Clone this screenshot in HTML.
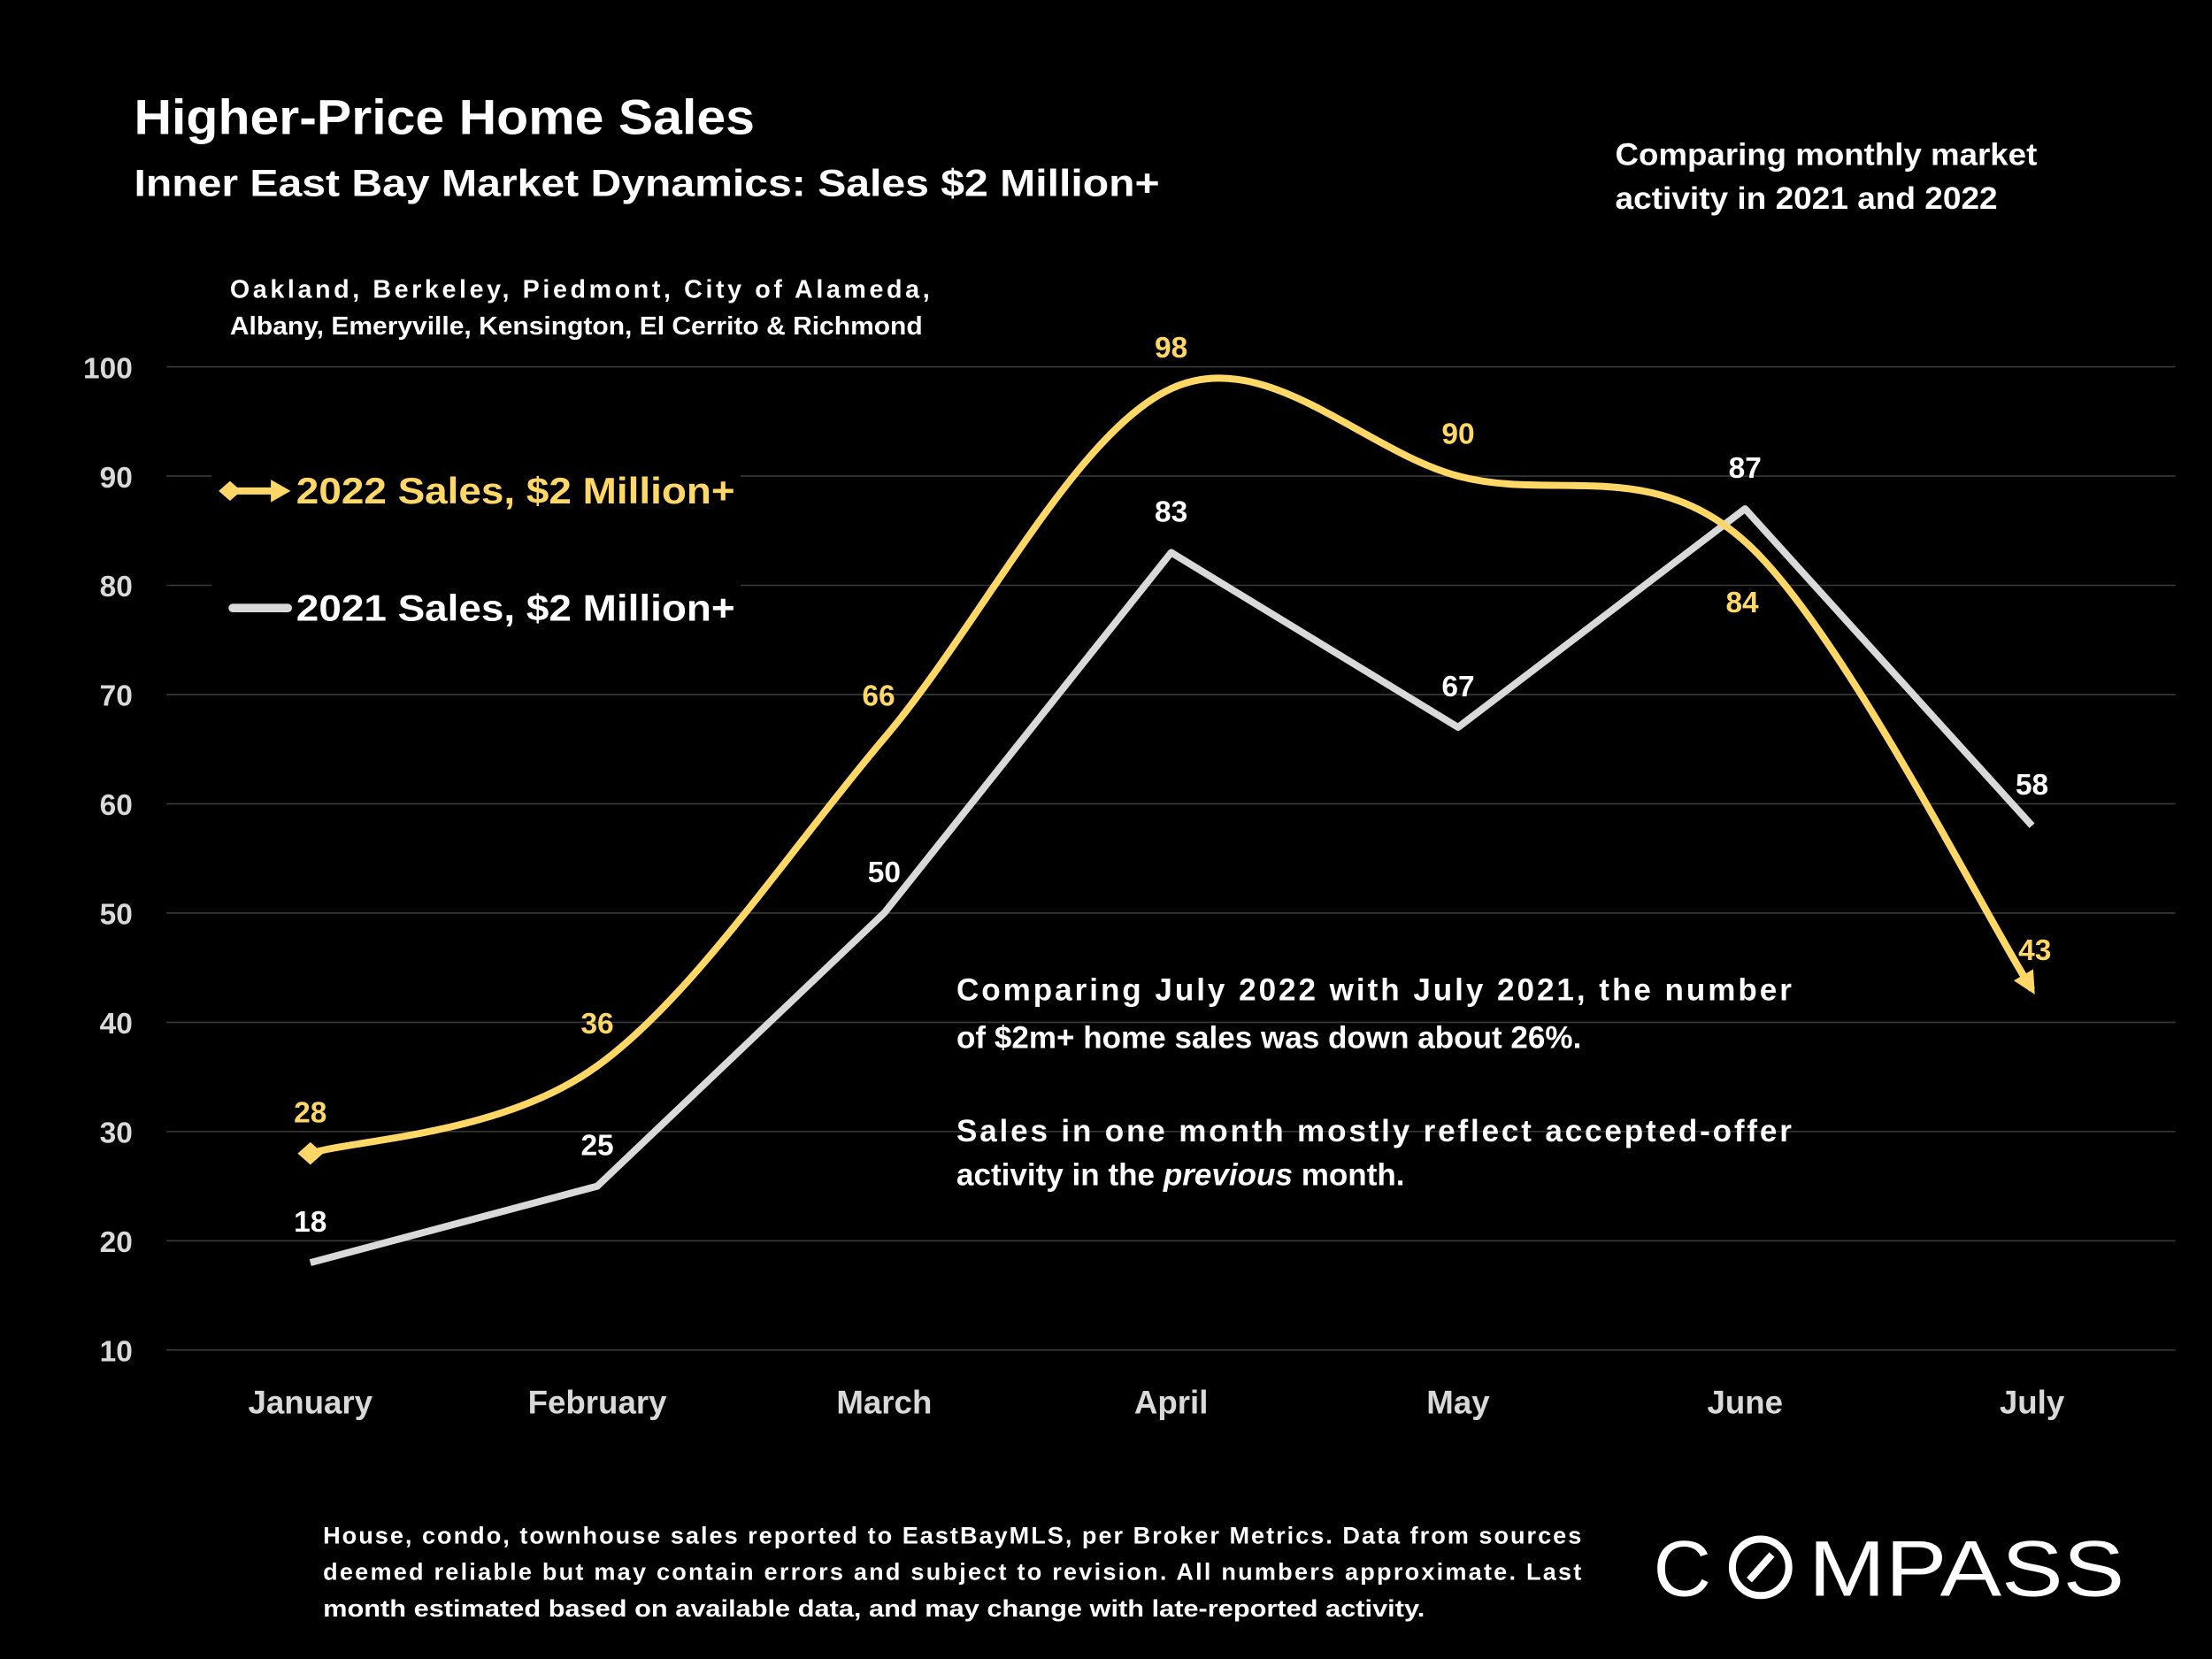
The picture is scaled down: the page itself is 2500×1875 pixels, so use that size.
<!DOCTYPE html>
<html><head><meta charset="utf-8"><style>
html,body{margin:0;padding:0;background:#000;}
svg{display:block;font-family:"Liberation Sans",sans-serif;font-weight:bold;}
</style></head><body>
<svg id="chart" width="2500" height="1875" viewBox="0 0 1568 1176" xmlns="http://www.w3.org/2000/svg">
<rect width="1568" height="1176" fill="#000"/>
<text x="95" y="95" fill="#fff" font-size="35" textLength="440" lengthAdjust="spacingAndGlyphs">Higher-Price Home Sales</text>
<text x="95" y="139" fill="#fff" font-size="27" textLength="727" lengthAdjust="spacingAndGlyphs">Inner East Bay Market Dynamics: Sales $2 Million+</text>
<text x="1145" y="117" fill="#fff" font-size="22" textLength="299" lengthAdjust="spacingAndGlyphs">Comparing monthly market</text>
<text x="1145" y="148" fill="#fff" font-size="22" textLength="271" lengthAdjust="spacingAndGlyphs">activity in 2021 and 2022</text>
<text x="163" y="211" fill="#fff" font-size="18" textLength="496" lengthAdjust="spacing">Oakland, Berkeley, Piedmont, City of Alameda,</text>
<text x="163" y="237" fill="#fff" font-size="18" textLength="491" lengthAdjust="spacingAndGlyphs">Albany, Emeryville, Kensington, El Cerrito &amp; Richmond</text>
<g id="grid"></g>
<g id="yticks"></g>
<g id="xticks"></g>
<rect x="150" y="320" width="375" height="140" fill="#000"/>
<g>
<line x1="165" y1="348" x2="195" y2="348" stroke="#FFD766" stroke-width="5"/>
<polygon points="155,348 163,341 171,348 163,355" fill="#FFD766"/>
<polygon points="192,340 206,348 192,356" fill="#FFD766"/>
<text x="210" y="357" fill="#FFD766" font-size="26" textLength="311" lengthAdjust="spacingAndGlyphs">2022 Sales, $2 Million+</text>
</g>
<g>
<line x1="165" y1="431" x2="204" y2="431" stroke="#d9d9d9" stroke-width="6" stroke-linecap="round"/>
<text x="210" y="440" fill="#fff" font-size="26" textLength="311" lengthAdjust="spacingAndGlyphs">2021 Sales, $2 Million+</text>
</g>
<g id="series"></g>
<g fill="#fff" font-size="22">
<text x="678" y="709" textLength="592" lengthAdjust="spacing">Comparing July 2022 with July 2021, the number</text>
<text x="678" y="743">of $2m+ home sales was down about 26%.</text>
<text x="678" y="809" textLength="592" lengthAdjust="spacing">Sales in one month mostly reflect accepted-offer</text>
<text x="678" y="840">activity in the <tspan font-style="italic">previous</tspan> month.</text>
</g>
<g fill="#fff" font-size="17">
<text x="229" y="1094" textLength="892" lengthAdjust="spacing">House, condo, townhouse sales reported to EastBayMLS, per Broker Metrics. Data from sources</text>
<text x="229" y="1120" textLength="892" lengthAdjust="spacing">deemed reliable but may contain errors and subject to revision. All numbers approximate. Last</text>
<text x="229" y="1146" textLength="781" lengthAdjust="spacingAndGlyphs">month estimated based on available data, and may change with late-reported activity.</text>
</g>
<g fill="#fff">
<text x="1172" y="1131" font-size="56" font-weight="normal" textLength="41" lengthAdjust="spacingAndGlyphs">C</text>
<circle cx="1248" cy="1111" r="20" fill="none" stroke="#fff" stroke-width="5"/>
<line x1="1240" y1="1120" x2="1256" y2="1102" stroke="#fff" stroke-width="5"/>
<text x="1282" y="1131" font-size="56" font-weight="normal" textLength="224" lengthAdjust="spacingAndGlyphs">MPASS</text>
</g>
</svg>
<script>
const months = ["January","February","March","April","May","June","July"];
const sales2022 = [28,36,66,98,90,84,43];
const sales2021 = [18,25,50,83,67,87,58];
const yTicks = [10,20,30,40,50,60,70,80,90,100];

const NS = "http://www.w3.org/2000/svg";
const X0 = 220, XSTEP = 203.4;
const xs = i => X0 + i * XSTEP;
const ys = v => 957 - (v - 10) * (957 - 260) / 90;
function mk(tag, attrs, parent, txt) {
  const e = document.createElementNS(NS, tag);
  for (const k in attrs) e.setAttribute(k, attrs[k]);
  if (txt !== undefined) e.textContent = txt;
  parent.appendChild(e);
  return e;
}
const grid = document.getElementById('grid');
const yt = document.getElementById('yticks');
yTicks.forEach(v => {
  const l = mk('line', {x1:118, x2:1542, y1:ys(v), y2:ys(v), stroke:'#3a3a3a', 'stroke-width':1}, grid);
  
  
  const t = mk('text', {x:94, y:ys(v)+8, 'text-anchor':'end', fill:'#d9d9d9', 'font-size':21}, yt, v);
  
  
});
const xt = document.getElementById('xticks');
months.forEach((m, i) => {
  const t = mk('text', {x:xs(i), y:1002, 'text-anchor':'middle', fill:'#d9d9d9', 'font-size':23}, xt, m);
  
  
});
const series = document.getElementById('series');
const p21 = sales2021.map((v,i) => xs(i)+','+ys(v)).join(' ');
const l21 = mk('polyline', {points:p21, fill:'none', stroke:'#d9d9d9', 'stroke-width':5, 'stroke-linejoin':'round'}, series);


const pts = sales2022.map((v,i) => [xs(i), ys(v)]);
let d = 'M' + pts[0][0] + ',' + pts[0][1];
for (let i = 0; i < pts.length - 1; i++) {
  const p0 = pts[Math.max(0,i-1)], p1 = pts[i], p2 = pts[i+1], p3 = pts[Math.min(pts.length-1,i+2)];
  const c1 = [p1[0] + (p2[0]-p0[0])/6, p1[1] + (p2[1]-p0[1])/6];
  const c2 = [p2[0] - (p3[0]-p1[0])/6, p2[1] - (p3[1]-p1[1])/6];
  d += ' C' + c1 + ' ' + c2 + ' ' + p2;
}
const l22 = mk('path', {d:d, fill:'none', stroke:'#FFD766', 'stroke-width':5}, series);


const s = pts[0];
const dm = mk('polygon', {points:`${s[0]-9},${s[1]} ${s[0]},${s[1]-8} ${s[0]+9},${s[1]} ${s[0]},${s[1]+8}`, fill:'#FFD766'}, series);


const e = pts[pts.length-1], pe = pts[pts.length-2];
const ang = Math.atan2(e[1]-pe[1], e[0]-pe[0]) * 0.35 + Math.atan2(1, 0.55) * 0.65;
const ax = e[0] + 4*Math.cos(ang), ay = e[1] + 4*Math.sin(ang);
const ca = Math.cos(ang), sa = Math.sin(ang);
const ar = mk('polygon', {points:`${ax},${ay} ${ax-16*ca+8*sa},${ay-16*sa-8*ca} ${ax-16*ca-8*sa},${ay-16*sa+8*ca}`, fill:'#FFD766'}, series);


const off22 = [-30,-31,-31,-30,-31,42,-29];
const dx22 = [0,0,-4,0,0,-2,2];
sales2022.forEach((v,i) => {
  const t = mk('text', {x:xs(i)+dx22[i], y:ys(v)+off22[i]+8, 'text-anchor':'middle', fill:'#FFD766', 'font-size':21}, series, v);
  
  
});
const off21 = [-22,-22,-22,-22,-22,-22,-22];
sales2021.forEach((v,i) => {
  const t = mk('text', {x:xs(i), y:ys(v)+off21[i]+0, 'text-anchor':'middle', fill:'#fff', 'font-size':21}, series, v);
  
  
});
</script>
</body></html>
